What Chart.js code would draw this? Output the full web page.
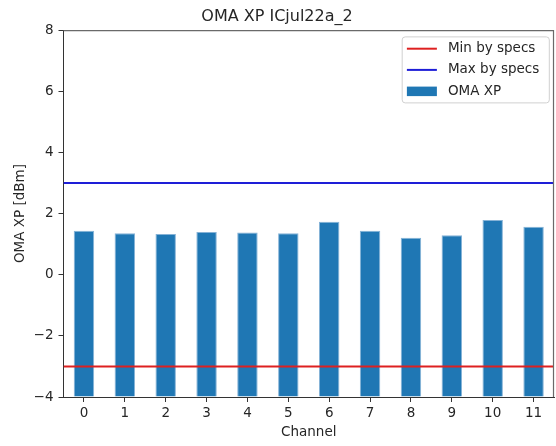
<!DOCTYPE html>
<html>
<head>
<meta charset="utf-8">
<title>OMA XP ICjul22a_2</title>
<script src="https://cdn.jsdelivr.net/npm/chart.js@4.4.1/dist/chart.umd.min.js"></script>
<style>
  html, body { margin: 0; padding: 0; background: #fff; }
  #wrap { width: 556px; height: 446px; position: relative; }
</style>
</head>
<body>
<div id="wrap"><canvas id="c"></canvas></div>
<script>
// Measured OMA XP per channel (dBm)
const channels = ['0', '1', '2', '3', '4', '5', '6', '7', '8', '9', '10', '11'];
const omaXp = [1.44, 1.36, 1.33, 1.40, 1.38, 1.36, 1.73, 1.44, 1.21, 1.29, 1.79, 1.57];
// Spec limits (dBm)
const minSpec = -3;
const maxSpec = 3;
// Value axis
const yTickValues = [-4, -2, 0, 2, 4, 6, 8];
const yMin = -4;
const yMax = 8;

const FONT = 'DejaVu Sans';
const TXT = '#262626';
const AX = '#333333';

// horizontal limit lines span the full category range
const xLo = -0.5;
const xHi = channels.length - 0.5;
const spanLine = v => [{ x: xLo, y: v }, { x: xHi, y: v }];

// top/right spines
const framePlugin = {
  id: 'frame',
  afterDraw(chart) {
    const { ctx, chartArea: a } = chart;
    ctx.save();
    ctx.strokeStyle = '#6a6a6a';
    ctx.lineWidth = 1.2;
    ctx.beginPath();
    ctx.moveTo(a.left, a.top + 0.5);
    ctx.lineTo(a.right - 0.5, a.top + 0.5);
    ctx.lineTo(a.right - 0.5, a.bottom);
    ctx.stroke();
    ctx.restore();
  }
};

// legend box inside the upper right corner of the plot
const innerLegend = {
  id: 'innerLegend',
  afterDraw(chart) {
    const { ctx, chartArea: a } = chart;
    const items = chart.data.datasets
      .map(d => d)
      .sort((p, q) => p.legendRank - q.legendRank);
    ctx.save();
    ctx.font = `13.5px "${FONT}"`;
    const textW = Math.max(...items.map(d => ctx.measureText(d.label).width));
    const padL = 4.7, handleW = 30, gap = 11, padR = 10;
    const rowH = 21.2;
    const w = padL + handleW + gap + textW + padR;
    const h = 66;
    const x0 = a.right - 4.7 - w;
    const y0 = a.top + 6.7;
    // frame
    ctx.beginPath();
    ctx.roundRect(x0, y0, w, h, 3);
    ctx.fillStyle = 'rgba(255,255,255,0.8)';
    ctx.fill();
    ctx.strokeStyle = '#d0d0d0';
    ctx.lineWidth = 1;
    ctx.stroke();
    items.forEach((d, i) => {
      const cy = y0 + 11.8 + i * rowH;
      const hx = x0 + padL;
      if (d.type === 'line') {
        ctx.strokeStyle = d.borderColor;
        ctx.lineWidth = 2;
        ctx.beginPath();
        ctx.moveTo(hx, cy);
        ctx.lineTo(hx + handleW, cy);
        ctx.stroke();
      } else {
        ctx.fillStyle = d.backgroundColor;
        ctx.fillRect(hx, cy - 4.5, handleW, 9.5);
      }
      ctx.fillStyle = TXT;
      ctx.textBaseline = 'middle';
      ctx.textAlign = 'left';
      ctx.fillText(d.label, hx + handleW + gap, cy);
    });
    ctx.restore();
  }
};

new Chart(document.getElementById('c'), {
  data: {
    labels: channels,
    datasets: [
      {
        type: 'bar',
        label: 'OMA XP',
        legendRank: 3,
        data: omaXp,
        base: yMin,
        backgroundColor: '#1f77b4',
        borderColor: 'rgba(120,170,210,0.9)',
        borderWidth: 1,
        grouped: false,
        barPercentage: 0.5,
        categoryPercentage: 1.0,
        order: 2
      },
      {
        type: 'line',
        label: 'Min by specs',
        legendRank: 1,
        data: spanLine(minSpec),
        xAxisID: 'xl',
        borderColor: 'rgb(222,32,32)',
        borderWidth: 2,
        pointRadius: 0,
        fill: false,
        order: 1
      },
      {
        type: 'line',
        label: 'Max by specs',
        legendRank: 2,
        data: spanLine(maxSpec),
        xAxisID: 'xl',
        borderColor: 'rgb(30,30,215)',
        borderWidth: 2,
        pointRadius: 0,
        fill: false,
        order: 1
      }
    ]
  },
  options: {
    responsive: true,
    maintainAspectRatio: false,
    animation: false,
    devicePixelRatio: 1,
    layout: { padding: { top: 0, right: 2, bottom: 0, left: 0 } },
    plugins: {
      legend: { display: false },
      tooltip: { enabled: false },
      title: {
        display: true,
        text: 'OMA XP ICjul22a_2',
        color: TXT,
        font: { family: FONT, size: 16, weight: 'normal' },
        padding: { top: 7, bottom: 4 }
      }
    },
    scales: {
      x: {
        type: 'category',
        offset: true,
        grid: { display: true, drawOnChartArea: false, drawTicks: true, tickLength: 5, color: AX, offset: false },
        border: { display: true, color: AX, width: 1 },
        ticks: { color: TXT, font: { family: FONT, size: 13.5 }, padding: 3, maxRotation: 0, autoSkip: false },
        title: { display: true, text: 'Channel', color: TXT, font: { family: FONT, size: 13.5 }, padding: { top: 0, bottom: 5 } },
        afterFit(scale) { scale.height = 49; }
      },
      xl: {
        type: 'linear',
        display: false,
        min: xLo,
        max: xHi
      },
      y: {
        type: 'linear',
        min: yMin,
        max: yMax,
        afterBuildTicks(scale) { scale.ticks = yTickValues.map(v => ({ value: v })); },
        grid: { display: true, drawOnChartArea: false, drawTicks: true, tickLength: 5, color: AX },
        border: { display: true, color: AX, width: 1 },
        ticks: {
          color: TXT,
          font: { family: FONT, size: 13.5 },
          padding: 5,
          callback: v => String(v).replace('-', '\u2212')
        },
        title: { display: true, text: 'OMA XP [dBm]', color: TXT, font: { family: FONT, size: 13.5 }, padding: { top: 12, bottom: 0 } },
        afterFit(scale) { scale.width = 63.5; }
      }
    }
  },
  plugins: [framePlugin, innerLegend]
});
</script>
</body>
</html>
